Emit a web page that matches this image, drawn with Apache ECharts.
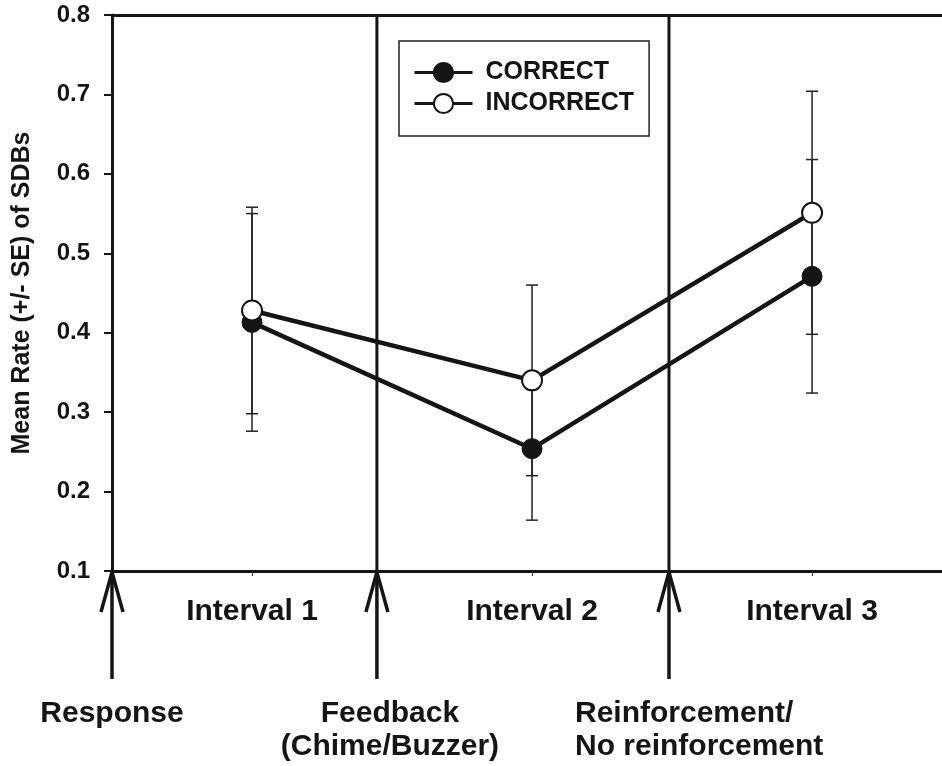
<!DOCTYPE html>
<html>
<head>
<meta charset="utf-8">
<script src="https://cdn.jsdelivr.net/npm/echarts@6/dist/echarts.min.js"></script>
<style>
  html, body { margin: 0; padding: 0; background: #fff; }
  #chart { width: 942px; height: 766px; }
</style>
</head>
<body>
<div id="chart"></div>
<script>
// ---------- data ----------
const intervalNames = ['Interval 1', 'Interval 2', 'Interval 3'];
const intervalPos = [1, 2, 3];
const correctMean = [0.413, 0.254, 0.471];
const correctSE = [0.137, 0.090, 0.147];
const incorrectMean = [0.428, 0.340, 0.551];
const incorrectSE = [0.130, 0.120, 0.153];
const yMin = 0.1;
const yMax = 0.8;
const yStep = 0.1;
const eventNames = ['Response', 'Feedback\n(Chime/Buzzer)', 'Reinforcement/\nNo reinforcement'];
const eventPos = [0.5, 1.446, 2.489];
const xMin = 0.5;
const xMax = 3.464;

// ---------- style ----------
const INK = '#151515';
const FONT = '"Liberation Sans", Arial, Helvetica, sans-serif';
const eventLabelLayout = [
  { align: 'center', dx: 0 },
  { align: 'center', dx: 13 },
  { align: 'left', dx: -94 }
];

const chart = echarts.init(document.getElementById('chart'), null, { renderer: 'canvas' });

function errorBarRenderer(params, api) {
  const x = api.value(0), m = api.value(1), s = api.value(2);
  const hi = api.coord([x, m + s]);
  const lo = api.coord([x, m - s]);
  const cw = 6;
  const st = { stroke: '#222', lineWidth: 1.5 };
  return {
    type: 'group',
    children: [
      { type: 'line', shape: { x1: hi[0], y1: hi[1], x2: lo[0], y2: lo[1] }, style: st },
      { type: 'line', shape: { x1: hi[0] - cw, y1: hi[1], x2: hi[0] + cw, y2: hi[1] }, style: st },
      { type: 'line', shape: { x1: lo[0] - cw, y1: lo[1], x2: lo[0] + cw, y2: lo[1] }, style: st }
    ]
  };
}

function eventRenderer(params, api) {
  const i = params.dataIndex;
  const x = api.value(0);
  const base = api.coord([x, yMin]);
  const top = api.coord([x, yMax]);
  const children = [];
  if (i > 0) {
    children.push({ type: 'line', shape: { x1: base[0], y1: top[1], x2: base[0], y2: base[1] },
      style: { stroke: INK, lineWidth: 3 } });
  }
  children.push({ type: 'line', shape: { x1: base[0], y1: base[1] + 2, x2: base[0], y2: base[1] + 108 },
    style: { stroke: INK, lineWidth: 3.5 } });
  children.push({ type: 'polyline', shape: { points: [[base[0] - 11, base[1] + 41], [base[0], base[1] + 1], [base[0] + 11, base[1] + 41]] },
    style: { stroke: INK, lineWidth: 3.5, fill: null } });
  const lay = eventLabelLayout[i];
  children.push({ type: 'text', x: base[0] + lay.dx, y: base[1] + 126,
    style: { text: eventNames[i], fontSize: 30, fontWeight: 'bold', fontFamily: FONT,
      align: lay.align, verticalAlign: 'top', lineHeight: 33, fill: INK } });
  return { type: 'group', children };
}

const option = {
  backgroundColor: '#fff',
  animation: false,
  textStyle: { fontFamily: FONT },
  grid: { left: 112, right: 0, top: 15, bottom: 195, containLabel: false, outerBoundsMode: 'none' },
  legend: {
    data: ['CORRECT', 'INCORRECT'],
    orient: 'vertical',
    left: 399, top: 41,
    padding: [19, 15, 20, 14],
    itemWidth: 58, itemHeight: 24, itemGap: 6,
    borderColor: '#222', borderWidth: 1.5,
    lineStyle: { width: 3 },
    textStyle: { fontSize: 25, fontWeight: 'bold', color: INK, fontFamily: FONT, padding: [0, 0, 0, 8] }
  },
  xAxis: [{
    type: 'value', min: xMin, max: xMax, position: 'bottom',
    axisLine: { lineStyle: { color: INK, width: 3 } },
    axisTick: { show: true, customValues: intervalPos, length: 5, lineStyle: { color: '#333', width: 1 } },
    axisLabel: {
      customValues: intervalPos,
      formatter: v => intervalNames[intervalPos.indexOf(v)] || '',
      fontSize: 30, fontWeight: 'bold', color: INK, fontFamily: FONT, margin: 26, lineHeight: 30
    },
    splitLine: { show: false }
  }, {
    type: 'value', min: xMin, max: xMax, position: 'top',
    axisLine: { show: true, onZero: false, lineStyle: { color: INK, width: 3 } },
    axisTick: { show: false }, axisLabel: { show: false }, splitLine: { show: false }
  }],
  yAxis: {
    type: 'value', min: yMin, max: yMax, interval: yStep,
    name: 'Mean Rate (+/- SE) of SDBs', nameLocation: 'middle', nameGap: 77, nameRotate: 90,
    nameTextStyle: { fontSize: 25, fontWeight: 'bold', color: INK, fontFamily: FONT },
    axisLine: { show: true, onZero: false, lineStyle: { color: INK, width: 3 } },
    axisTick: { show: true, length: 8, lineStyle: { color: INK, width: 2 } },
    axisLabel: { fontSize: 24, fontWeight: 'bold', color: INK, fontFamily: FONT, margin: 22,
      formatter: v => v.toFixed(1) },
    splitLine: { show: false }
  },
  series: [
    {
      type: 'custom', name: 'events', renderItem: eventRenderer, clip: false, silent: true, z: 1,
      data: eventPos.map(p => [p, yMin]), encode: { x: 0, y: 1 }
    },
    {
      type: 'custom', name: 'errCorrect', renderItem: errorBarRenderer, z: 2, silent: true,
      data: intervalPos.map((p, i) => [p, correctMean[i], correctSE[i]]), encode: { x: 0, y: 1 }
    },
    {
      type: 'custom', name: 'errIncorrect', renderItem: errorBarRenderer, z: 2, silent: true,
      data: intervalPos.map((p, i) => [p, incorrectMean[i], incorrectSE[i]]), encode: { x: 0, y: 1 }
    },
    {
      type: 'line', name: 'CORRECT', z: 3,
      data: intervalPos.map((p, i) => [p, correctMean[i]]),
      symbol: 'circle', symbolSize: 20,
      lineStyle: { color: INK, width: 4.5 },
      itemStyle: { color: INK, borderColor: INK, borderWidth: 1 }
    },
    {
      type: 'line', name: 'INCORRECT', z: 4,
      data: intervalPos.map((p, i) => [p, incorrectMean[i]]),
      symbol: 'circle', symbolSize: 20,
      lineStyle: { color: INK, width: 4.5 },
      itemStyle: { color: '#fff', borderColor: INK, borderWidth: 2 }
    }
  ]
};
chart.setOption(option);
</script>
</body>
</html>
